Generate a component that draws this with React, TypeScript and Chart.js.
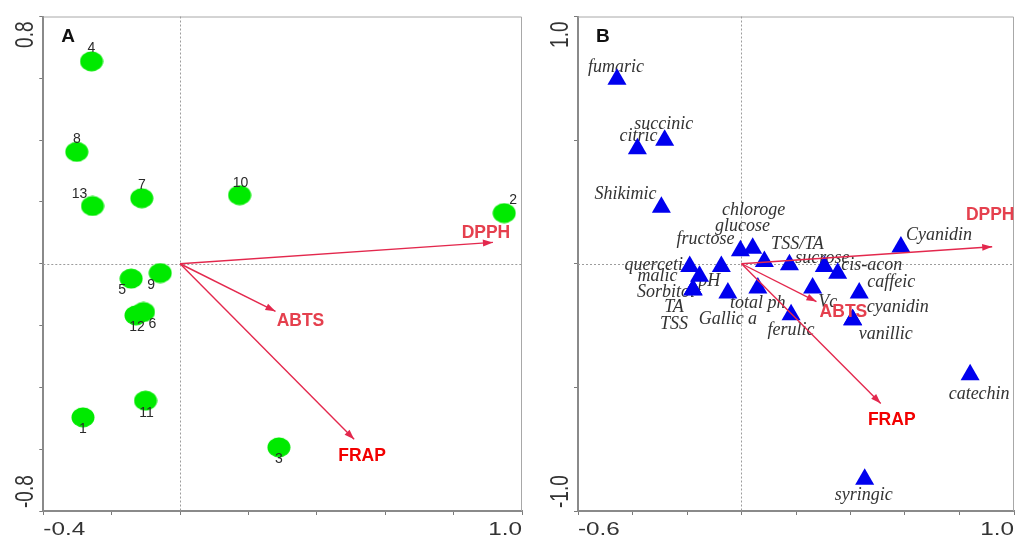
import React, { useEffect, useRef } from 'react';
import { Chart, registerables } from 'chart.js';

Chart.register(...registerables);

// ---------------- Panel A : samples ----------------
const sampleNames = ['1', '2', '3', '4', '5', '6', '7', '8', '9', '10', '11', '12', '13'];
const sampleAxis1 = [-0.284, 0.948, 0.289, -0.259, -0.143, -0.107, -0.112, -0.302, -0.058, 0.174, -0.101, -0.129, -0.256];
const sampleAxis2 = [-0.497, 0.164, -0.594, 0.655, -0.048, -0.156, 0.212, 0.362, -0.030, 0.222, -0.443, -0.167, 0.187];

const activityNames = ['DPPH', 'ABTS', 'FRAP'];
const activityAxis1A = [0.915, 0.279, 0.509];
const activityAxis2A = [0.069, -0.154, -0.568];

const xRangeA = [-0.4, 1.0];
const yRangeA = [-0.8, 0.8];

// ---------------- Panel B : variables ----------------
const variableNames = [
  'fumaric', 'succinic', 'citric', 'Shikimic', 'chloroge', 'glucose', 'fructose', 'TSS/TA',
  'sucrose', 'cis-acon', 'caffeic', 'cyanidin', 'vanillic', 'Vc', 'ferulic', 'total ph',
  'Gallic a', 'pH', 'querceti', 'malic', 'Sorbitol', 'TA', 'TSS', 'Cyanidin', 'catechin', 'syringic',
];
const variableAxis1 = [
  -0.457, -0.282, -0.382, -0.294, 0.041, 0.084, -0.004, 0.176,
  0.304, 0.353, 0.432, 0.408, 0.408, 0.261, 0.182, 0.060,
  -0.050, -0.074, -0.190, -0.154, -0.178, -0.178, -0.178, 0.585, 0.839, 0.452,
];
const variableAxis2 = [
  0.746, 0.500, 0.465, 0.229, 0.063, 0.009, 0.053, -0.004,
  -0.011, -0.038, -0.118, -0.226, -0.226, -0.098, -0.206, -0.098,
  -0.118, -0.011, -0.011, -0.051, -0.105, -0.105, -0.105, 0.068, -0.449, -0.872,
];

const activityAxis1B = [0.920, 0.275, 0.511];
const activityAxis2B = [0.069, -0.153, -0.565];

const xRangeB = [-0.6, 1.0];
const yRangeB = [-1.0, 1.0];

// ---------------- label placement (styling, px) ----------------
const sampleLabelOffsets: [number, number][] = [
  [0, 12], [9, -13], [0, 12], [0, -13], [-9, 12], [9, 12], [0, -13],
  [0, -13], [-9, 12], [1, -12], [1, 12], [1, 12], [-13, -12],
];
const variableLabelOffsets: [number, number][] = [
  [-1, -12.5], [-1, -15.5], [1, -12.5], [-36, -12.5], [1, -37.5], [-22, -35], [-35, -11.5], [8, -20],
  [-2, -8.5], [34, -7.5], [32, -10.5], [45, -12.5], [33, 15], [15, 14], [0, 16], [0, 15.5],
  [0, 26.5], [-12, 15], [-36, -1.5], [-42, 0], [-27, 3], [-19, 18], [-19, 35], [38, -12], [9, 19.5], [-1, 16],
];
const activityLabelOffsetsA: [number, number][] = [[-7, -9], [25, 10], [8, 17]];
const activityLabelOffsetsB: [number, number][] = [[-2, -32], [27, 11], [11, 17]];
const activityLabelColors = ['#e5404e', '#e5404e', '#f20000'];

const ARROW_COLOR = '#e3284d';
const SANS = '"Liberation Sans", Arial, sans-serif';
const SERIF = '"Liberation Serif", "Times New Roman", serif';

type Spec = {
  letter: string;
  xRange: number[];
  yRange: number[];
  xStep: number;
  yStep: number;
  pointX: number[];
  pointY: number[];
  pointNames: string[];
  pointOffsets: [number, number][];
  pointStyle: any;
  pointRadius: number;
  pointColor: string;
  labelFont: string;
  labelColor: string;
  labelsUnder: boolean;
  arrowX: number[];
  arrowY: number[];
  arrowOffsets: [number, number][];
  leftW: number;
  padRight: number;
};

function makeEllipse(w: number, h: number, color: string) {
  const c = document.createElement('canvas');
  c.width = w;
  c.height = h;
  const g = c.getContext('2d')!;
  g.fillStyle = color;
  g.beginPath();
  g.ellipse(w / 2, h / 2, w / 2 - 0.5, h / 2 - 0.5, 0, 0, Math.PI * 2);
  g.fill();
  return c;
}

function arrowHead(ctx: CanvasRenderingContext2D, x0: number, y0: number, x1: number, y1: number) {
  const ang = Math.atan2(y1 - y0, x1 - x0);
  const L = 10;
  const W = 3.5;
  const bx = x1 - L * Math.cos(ang);
  const by = y1 - L * Math.sin(ang);
  ctx.save();
  ctx.fillStyle = ARROW_COLOR;
  ctx.beginPath();
  ctx.moveTo(x1, y1);
  ctx.lineTo(bx + W * Math.sin(ang), by - W * Math.cos(ang));
  ctx.lineTo(bx - W * Math.sin(ang), by + W * Math.cos(ang));
  ctx.closePath();
  ctx.fill();
  ctx.restore();
}

function buildChart(canvas: HTMLCanvasElement, spec: Spec) {
  const drawPointLabels = (chart: any) => {
    const { ctx, scales } = chart;
    ctx.save();
    ctx.font = spec.labelFont;
    ctx.fillStyle = spec.labelColor;
    ctx.textAlign = 'center';
    ctx.textBaseline = 'middle';
    spec.pointNames.forEach((name, i) => {
      const px = scales.x.getPixelForValue(spec.pointX[i]);
      const py = scales.y.getPixelForValue(spec.pointY[i]);
      const [dx, dy] = spec.pointOffsets[i];
      ctx.fillText(name, px + dx, py + dy);
    });
    ctx.restore();
  };

  const decor = {
    id: 'decor' + spec.letter,
    beforeDatasetsDraw(chart: any) {
      const { ctx, chartArea: a, scales } = chart;
      ctx.save();
      // top & right frame
      ctx.strokeStyle = '#a8a8a8';
      ctx.lineWidth = 1;
      ctx.beginPath();
      ctx.moveTo(a.left, a.top + 0.5);
      ctx.lineTo(a.right - 0.5, a.top + 0.5);
      ctx.lineTo(a.right - 0.5, a.bottom);
      ctx.stroke();
      // zero lines
      const x0 = Math.round(scales.x.getPixelForValue(0)) + 0.5;
      const y0 = Math.round(scales.y.getPixelForValue(0)) + 0.5;
      ctx.strokeStyle = '#9c9c9c';
      ctx.setLineDash([2, 2]);
      ctx.beginPath();
      ctx.moveTo(x0, a.top);
      ctx.lineTo(x0, a.bottom);
      ctx.moveTo(a.left, y0);
      ctx.lineTo(a.right, y0);
      ctx.stroke();
      ctx.restore();
      if (spec.labelsUnder) drawPointLabels(chart);
    },
    afterDatasetsDraw(chart: any) {
      const { ctx, chartArea: a, scales } = chart;
      const ox = scales.x.getPixelForValue(0);
      const oy = scales.y.getPixelForValue(0);
      spec.arrowX.forEach((ax, i) => {
        const tx = scales.x.getPixelForValue(ax);
        const ty = scales.y.getPixelForValue(spec.arrowY[i]);
        arrowHead(ctx, ox, oy, tx, ty);
      });
      if (!spec.labelsUnder) drawPointLabels(chart);
      // arrow labels
      ctx.save();
      ctx.font = 'bold 17.5px ' + SANS;
      ctx.textAlign = 'center';
      ctx.textBaseline = 'middle';
      activityNames.forEach((n, i) => {
        const tx = scales.x.getPixelForValue(spec.arrowX[i]);
        const ty = scales.y.getPixelForValue(spec.arrowY[i]);
        const [dx, dy] = spec.arrowOffsets[i];
        ctx.fillStyle = activityLabelColors[i];
        ctx.fillText(n, tx + dx, ty + dy);
      });
      ctx.restore();
      // panel letter
      ctx.save();
      ctx.font = 'bold 19px ' + SANS;
      ctx.fillStyle = '#111';
      ctx.textAlign = 'left';
      ctx.textBaseline = 'alphabetic';
      ctx.fillText(spec.letter, a.left + 18, a.top + 25);
      ctx.restore();
      // tick labels (axis ends)
      ctx.save();
      ctx.fillStyle = '#333';
      ctx.font = '18px ' + SANS;
      ctx.textBaseline = 'alphabetic';
      const xl = spec.xRange[0].toFixed(1);
      const xr = spec.xRange[1].toFixed(1);
      ctx.save();
      ctx.translate(a.left, a.bottom + 24);
      ctx.scale(1.35, 1);
      ctx.textAlign = 'left';
      ctx.fillText(xl, 0, 0);
      ctx.restore();
      ctx.save();
      ctx.translate(a.right, a.bottom + 24);
      ctx.scale(1.35, 1);
      ctx.textAlign = 'right';
      ctx.fillText(xr, 0, 0);
      ctx.restore();
      ctx.font = '19px ' + SANS;
      const yb = spec.yRange[0].toFixed(1);
      const yt = spec.yRange[1].toFixed(1);
      ctx.save();
      ctx.translate(a.left - 10, a.top + 5);
      ctx.scale(1.4, 1);
      ctx.rotate(-Math.PI / 2);
      ctx.textAlign = 'right';
      ctx.fillText(yt, 0, 0);
      ctx.restore();
      ctx.save();
      ctx.translate(a.left - 10, a.bottom - 3);
      ctx.scale(1.4, 1);
      ctx.rotate(-Math.PI / 2);
      ctx.textAlign = 'left';
      ctx.fillText(yb, 0, 0);
      ctx.restore();
      ctx.restore();
    },
  };

  const datasets: any[] = [];
  spec.arrowX.forEach((ax, i) => {
    datasets.push({
      data: [{ x: 0, y: 0 }, { x: ax, y: spec.arrowY[i] }],
      showLine: true,
      borderColor: ARROW_COLOR,
      borderWidth: 1.4,
      pointRadius: 0,
      clip: false,
    });
  });
  datasets.push({
    data: spec.pointX.map((x, i) => ({ x, y: spec.pointY[i] })),
    pointStyle: spec.pointStyle,
    pointRadius: spec.pointRadius,
    backgroundColor: spec.pointColor,
    borderColor: spec.pointColor,
    borderWidth: 0,
    showLine: false,
    clip: false,
  });

  const axisCommon = (min: number, max: number, step: number) => ({
    type: 'linear',
    min,
    max,
    ticks: { display: false, stepSize: step },
    grid: { drawOnChartArea: false, drawTicks: true, tickLength: 4, tickColor: '#7a7a7a', tickWidth: 1 },
    border: { display: true, color: '#8a8a8a', width: 2 },
  });

  return new Chart(canvas, {
    type: 'scatter',
    data: { datasets },
    options: {
      animation: false,
      responsive: false,
      devicePixelRatio: 1,
      events: [],
      layout: { padding: { top: 16.5, right: spec.padRight, left: 0, bottom: 0 } },
      plugins: { legend: { display: false }, tooltip: { enabled: false } },
      scales: {
        x: {
          ...axisCommon(spec.xRange[0], spec.xRange[1], spec.xStep),
          afterFit: (s: any) => {
            s.height = 29;
          },
        },
        y: {
          ...axisCommon(spec.yRange[0], spec.yRange[1], spec.yStep),
          afterFit: (s: any) => {
            s.width = spec.leftW;
          },
        },
      },
    } as any,
    plugins: [decor],
  } as any);
}

export default function App() {
  const refA = useRef<HTMLCanvasElement>(null);
  const refB = useRef<HTMLCanvasElement>(null);

  useEffect(() => {
    const specA: Spec = {
      letter: 'A',
      xRange: xRangeA,
      yRange: yRangeA,
      xStep: 0.2,
      yStep: 0.2,
      pointX: sampleAxis1,
      pointY: sampleAxis2,
      pointNames: sampleNames,
      pointOffsets: sampleLabelOffsets,
      pointStyle: makeEllipse(24, 21, '#00ea00'),
      pointRadius: 12,
      pointColor: '#00ea00',
      labelFont: '14px ' + SANS,
      labelColor: '#2a2a2a',
      labelsUnder: false,
      arrowX: activityAxis1A,
      arrowY: activityAxis2A,
      arrowOffsets: activityLabelOffsetsA,
      leftW: 43.3,
      padRight: 13,
    };
    const specB: Spec = {
      letter: 'B',
      xRange: xRangeB,
      yRange: yRangeB,
      xStep: 0.2,
      yStep: 0.5,
      pointX: variableAxis1,
      pointY: variableAxis2,
      pointNames: variableNames,
      pointOffsets: variableLabelOffsets,
      pointStyle: 'triangle',
      pointRadius: 11,
      pointColor: '#0000ee',
      labelFont: 'italic 18px ' + SERIF,
      labelColor: '#333',
      labelsUnder: true,
      arrowX: activityAxis1B,
      arrowY: activityAxis2B,
      arrowOffsets: activityLabelOffsetsB,
      leftW: 48,
      padRight: 13,
    };
    const a = buildChart(refA.current!, specA);
    const b = buildChart(refB.current!, specB);
    return () => {
      a.destroy();
      b.destroy();
    };
  }, []);

  return (
    <div style={{ position: 'absolute', left: 0, top: 0, width: 1015, height: 540, background: '#fff', overflow: 'hidden' }}>
      <canvas ref={refA} width={535} height={540} style={{ position: 'absolute', left: 0, top: 0 }} />
      <canvas ref={refB} width={497} height={540} style={{ position: 'absolute', left: 530, top: 0 }} />
    </div>
  );
}
